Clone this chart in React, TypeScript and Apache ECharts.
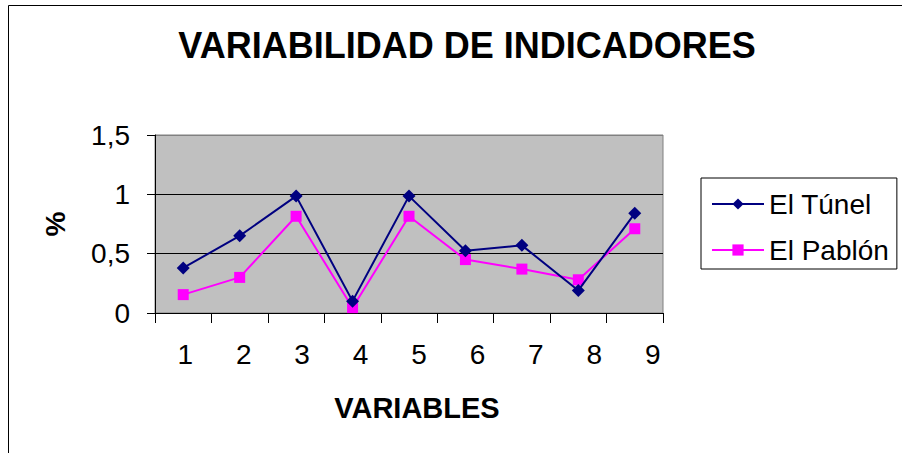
import React, { useEffect, useRef } from "react";
import * as echarts from "echarts";

const categories = ["1", "2", "3", "4", "5", "6", "7", "8", "9"];
const elTunel = [0.38, 0.65, 0.985, 0.1, 0.985, 0.525, 0.57, 0.19, 0.84];
const elPablon = [0.155, 0.3, 0.815, 0.045, 0.815, 0.45, 0.37, 0.28, 0.71];
const seriesNames = ["El Túnel", "El Pablón"];
const titleText = "VARIABILIDAD DE INDICADORES";
const xAxisName = "VARIABLES";
const yAxisName = "%";

const FONT = "'Liberation Sans', Arial, sans-serif";

export default function App() {
  const ref = useRef<HTMLDivElement>(null);
  useEffect(() => {
    if (!ref.current) return;
    const chart = echarts.init(ref.current, undefined, { renderer: "svg" });
    const rich: Record<string, any> = {};
    categories.forEach((_, i) => {
      rich["p" + i] = {
        fontSize: 28,
        fontFamily: FONT,
        color: "#000",
        padding: [0, 0, 0, 4 * (i + 1)],
      };
    });
    chart.setOption({
      animation: false,
      backgroundColor: "#fff",
      title: {
        text: titleText,
        left: 462,
        top: 22,
        textAlign: "center",
        textStyle: { fontSize: 36, fontWeight: "bold", fontFamily: FONT, color: "#000" },
      },
      graphic: [
        {
          type: "rect",
          shape: { x: 8.5, y: 5.5, width: 1000, height: 1000 },
          style: { fill: "none", stroke: "#000", lineWidth: 1 },
          silent: true,
        },
      ],
      legend: {
        orient: "vertical",
        left: 701,
        top: 178,
        padding: [12, 8, 5, 10],
        itemWidth: 52,
        itemHeight: 14,
        itemGap: 18,
        borderColor: "#000",
        borderWidth: 1,
        textStyle: { fontSize: 28, fontFamily: FONT, color: "#000" },
        data: seriesNames,
      },
      grid: {
        left: 155,
        right: 239,
        top: 135,
        bottom: 140,
        show: true,
        backgroundColor: "#C0C0C0",
        borderColor: "#808080",
        borderWidth: 1,
      },
      xAxis: {
        type: "category",
        data: categories,
        boundaryGap: true,
        name: xAxisName,
        nameLocation: "middle",
        nameGap: 80,
        nameTextStyle: {
          fontSize: 29,
          fontWeight: "bold",
          fontFamily: FONT,
          color: "#000",
          padding: [0, 0, 0, 16],
        },
        axisLine: { lineStyle: { color: "#000", width: 1 } },
        axisTick: {
          show: true,
          length: 10,
          interval: 0,
          alignWithLabel: false,
          lineStyle: { color: "#000" },
        },
        axisLabel: {
          interval: 0,
          margin: 27,
          fontSize: 28,
          fontFamily: FONT,
          color: "#000",
          formatter: (v: string, i: number) => `{p${i}|${v}}`,
          rich,
        },
        splitLine: { show: false },
      },
      yAxis: {
        type: "value",
        min: 0,
        max: 1.5,
        interval: 0.5,
        name: yAxisName,
        nameLocation: "middle",
        nameGap: 86,
        nameTextStyle: { fontSize: 28, fontWeight: "bold", fontFamily: FONT, color: "#000" },
        axisLine: { show: true, lineStyle: { color: "#000", width: 1 } },
        axisTick: { show: true, length: 8, lineStyle: { color: "#000" } },
        axisLabel: {
          margin: 25,
          fontSize: 28,
          fontFamily: FONT,
          color: "#000",
          formatter: (v: number) => String(v).replace(".", ","),
        },
        splitLine: { show: true, lineStyle: { color: ["#000", "#000", "#000", "#808080"], width: 1 } },
      },
      series: [
        {
          name: seriesNames[0],
          type: "line",
          data: elTunel,
          symbol: "diamond",
          symbolSize: 13,
          showAllSymbol: true,
          itemStyle: { color: "#000080" },
          lineStyle: { color: "#000080", width: 2 },
          z: 3,
        },
        {
          name: seriesNames[1],
          type: "line",
          data: elPablon,
          symbol: "rect",
          symbolSize: 11,
          showAllSymbol: true,
          itemStyle: { color: "#FF00FF" },
          lineStyle: { color: "#FF00FF", width: 2 },
          z: 2,
        },
      ],
    });
    return () => chart.dispose();
  }, []);
  return (
    <div
      ref={ref}
      style={{ position: "absolute", left: 0, top: 0, width: 902, height: 453 }}
    />
  );
}
